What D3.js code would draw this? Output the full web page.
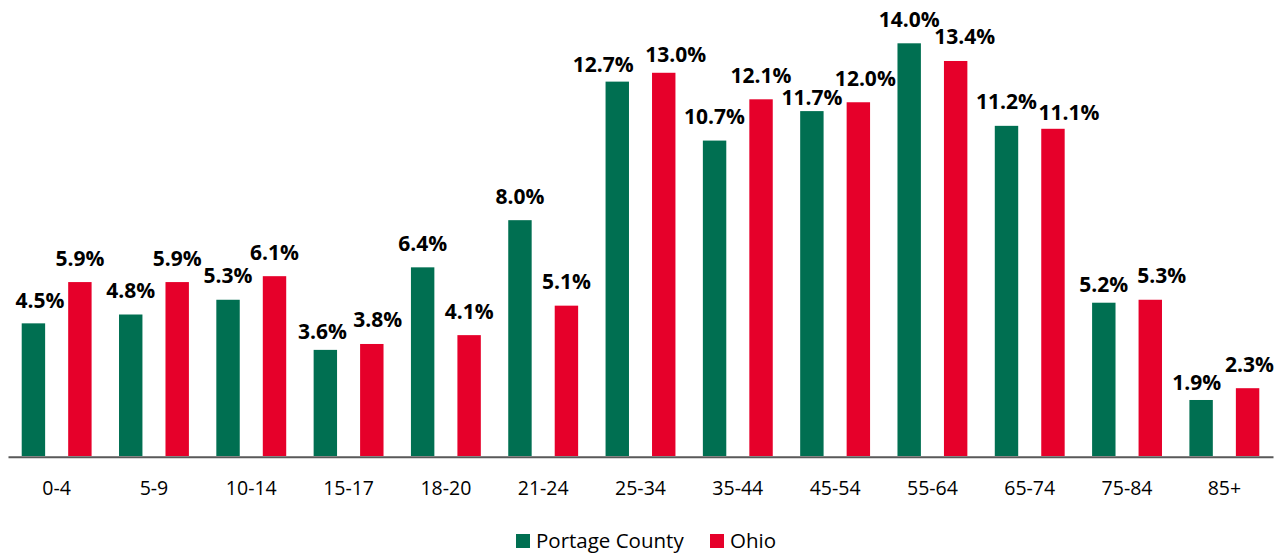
<!DOCTYPE html>
<html>
<head>
<meta charset="utf-8">
<script src="https://cdn.jsdelivr.net/npm/d3@7"></script>
<style>
  body { margin: 0; background: #fff; }
  svg { display: block; font-family: "Open Sans", "Noto Sans", sans-serif; }
</style>
</head>
<body>
<svg id="chart"></svg>
<script>
// age groups and population shares (%)
const categories = ['0-4', '5-9', '10-14', '15-17', '18-20', '21-24', '25-34', '35-44', '45-54', '55-64', '65-74', '75-84', '85+'];
const portageValues = [4.5, 4.8, 5.3, 3.6, 6.4, 8.0, 12.7, 10.7, 11.7, 14.0, 11.2, 5.2, 1.9];
const ohioValues = [5.9, 5.9, 6.1, 3.8, 4.1, 5.1, 13.0, 12.1, 12.0, 13.4, 11.1, 5.3, 2.3];
const seriesNames = ['Portage County', 'Ohio'];
const colors = ['#006F51', '#E6002A'];

// hand-placed label nudges [dx, dy] as in the original, keyed by series then category
const labelNudge = {
  'Portage County': {'0-4': [6.5, 1.5], '15-17': [-3, 5.5], '25-34': [-14, 7], '45-54': [0, 10], '75-84': [0, 6], '85+': [-4.5, 7]},
  'Ohio': {'15-17': [6, 0], '25-34': [12, 6], '45-54': [7, 0], '55-64': [9, 0], '65-74': [16, 8], '75-84': [11.5, 0], '85+': [2, 0]}
};

const width = 1283, height = 555;
const svg = d3.select('#chart').attr('width', width).attr('height', height);

const x0 = d3.scaleBand()
    .domain(categories)
    .range([8, 1273])
    .paddingInner(0)
    .paddingOuter(0);

const x1 = d3.scaleBand()
    .domain(seriesNames)
    .range([0, x0.bandwidth()])
    .paddingInner(0.496)
    .paddingOuter(0.295);

const y = d3.scaleLinear()
    .domain([0, 14])
    .range([456, 43.3]);

const rows = categories.map((c, i) => ({cat: c, vals: [portageValues[i], ohioValues[i]]}));

const groups = svg.append('g').selectAll('g')
    .data(rows)
    .join('g')
    .attr('transform', d => `translate(${x0(d.cat)},0)`);

const cells = d => d.vals.map((v, j) => ({v, cat: d.cat, s: seriesNames[j], j}));

groups.selectAll('rect')
    .data(cells)
    .join('rect')
    .attr('x', d => x1(d.s))
    .attr('width', x1.bandwidth())
    .attr('y', d => y(d.v))
    .attr('height', d => y(0) - y(d.v))
    .attr('fill', d => colors[d.j]);

const nudge = d => labelNudge[d.s][d.cat] || [0, 0];

groups.selectAll('text.val')
    .data(cells)
    .join('text')
    .attr('class', 'val')
    .attr('x', d => x1(d.s) + x1.bandwidth() / 2 + nudge(d)[0])
    .attr('y', d => y(d.v) - 16.5 + nudge(d)[1])
    .attr('text-anchor', 'middle')
    .attr('font-size', 21)
    .attr('font-weight', 'bold')
    .attr('fill', '#000')
    .text(d => d.v.toFixed(1) + '%');

// x axis
const xAxis = d3.axisBottom(x0).tickSize(0).tickPadding(24);
svg.append('g')
    .attr('transform', `translate(0,${y(0) + 0.7})`)
    .call(xAxis)
    .call(g => g.select('.domain').attr('stroke', '#595959').attr('stroke-width', 2))
    .call(g => g.selectAll('text').attr('font-size', 19.5).attr('fill', '#000')
        .attr('font-family', '"Open Sans", "Noto Sans", sans-serif'));

// legend
const legend = svg.append('g').attr('transform', 'translate(516,534)');
const legendX = [0, 194];
seriesNames.forEach((name, i) => {
  const g = legend.append('g').attr('transform', `translate(${legendX[i]},0)`);
  g.append('rect').attr('width', 14).attr('height', 14).attr('fill', colors[i]);
  g.append('text').attr('x', 20).attr('y', 14)
      .attr('font-size', 20.5).attr('fill', '#000').text(name);
});
</script>
</body>
</html>
